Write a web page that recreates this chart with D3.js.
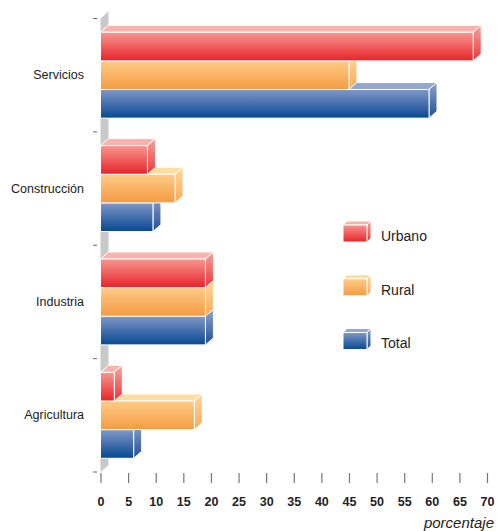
<html>
<head>
  <meta charset="utf-8">
  <title>Empleo por sector</title>
  <style>
    html, body { margin: 0; padding: 0; background: #fff; }
    svg { display: block; font-family: "Liberation Sans", Arial, sans-serif; }
  </style>
  <script src="https://d3js.org/d3.v7.min.js" charset="utf-8"></script>
</head>
<body>
<script>
  var categories = ["Servicios", "Construcción", "Industria", "Agricultura"];
  var seriesNames = ["Urbano", "Rural", "Total"];
  var urbano = [67.5, 8.5, 19, 2.5];
  var rural = [45, 13.5, 19, 17];
  var total = [59.5, 9.5, 19, 6];
  var xTicks = d3.range(0, 71, 5);

  var width = 497, height = 531;
  var dx = 8, dy = 7;   // profundidad 3D

  var svg = d3.select("body").append("svg")
    .attr("width", width)
    .attr("height", height);

  // colores: frente (arriba, abajo), cara superior, lateral (arriba, abajo)
  var pal = {
    Urbano: { f0: "#f7978f", f1: "#e8232a", top: "#f9b2ac", s0: "#f6a39c", s1: "#e9363a" },
    Rural:  { f0: "#fdcc87", f1: "#f59a42", top: "#fedda0", s0: "#fed797", s1: "#f7ab5a" },
    Total:  { f0: "#8198c8", f1: "#064891", top: "#94a7d1", s0: "#8ea2cf", s1: "#1f4f92" }
  };

  var defs = svg.append("defs");
  seriesNames.forEach(function (s) {
    var g = defs.append("linearGradient").attr("id", "f-" + s)
      .attr("x1", 0).attr("y1", 0).attr("x2", 0).attr("y2", 1);
    g.append("stop").attr("offset", "0%").attr("stop-color", pal[s].f0);
    g.append("stop").attr("offset", "100%").attr("stop-color", pal[s].f1);
    var h = defs.append("linearGradient").attr("id", "s-" + s)
      .attr("x1", 0).attr("y1", 0).attr("x2", 0).attr("y2", 1);
    h.append("stop").attr("offset", "0%").attr("stop-color", pal[s].s0);
    h.append("stop").attr("offset", "100%").attr("stop-color", pal[s].s1);
  });

  var x = d3.scaleLinear().domain([0, 70]).range([100.5, 487]);
  var y = d3.scaleBand().domain(categories).range([18.5, 472]).padding(0);
  var ys = d3.scaleBand().domain(seriesNames).range([0, y.bandwidth()])
    .paddingInner(0).paddingOuter(0.48);

  var values = { Urbano: urbano, Rural: rural, Total: total };

  // pared gris del eje
  var x0 = x(0);
  svg.append("path")
    .attr("d", "M" + x0 + "," + y.range()[0] + "L" + (x0 + dx) + "," + (y.range()[0] - dy) +
      "L" + (x0 + dx) + "," + (y.range()[1] - dy) + "L" + x0 + "," + y.range()[1] + "Z")
    .attr("fill", "#c9c9c9");

  // marcas del eje y en los limites de cada categoria
  var bounds = categories.map(function (c) { return y(c); }).concat([y.range()[1]]);
  svg.selectAll(".ybound").data(bounds).enter().append("line")
    .attr("x1", 93).attr("x2", 97)
    .attr("y1", function (d) { return d; }).attr("y2", function (d) { return d; })
    .attr("stroke", "#666").attr("stroke-width", 1);

  // etiquetas de categoria
  var yAxis = svg.append("g")
    .attr("transform", "translate(84,0)")
    .call(d3.axisLeft(y).tickSize(0).tickPadding(0));
  yAxis.select(".domain").remove();
  yAxis.selectAll("text")
    .attr("font-size", "12.5px")
    .attr("font-family", "'Liberation Sans', Arial, sans-serif")
    .attr("fill", "#222");

  // barras 3D
  function drawBox(g, xa, xb, ya, yb, s) {
    // cara superior
    g.append("path")
      .attr("d", "M" + xa + "," + ya + "L" + (xa + dx) + "," + (ya - dy) + "L" + (xb + dx) + "," + (ya - dy) +
        "L" + xb + "," + ya + "Z")
      .attr("fill", pal[s].top).attr("stroke", "#fff").attr("stroke-width", 1);
    // lateral
    g.append("path")
      .attr("d", "M" + xb + "," + ya + "L" + (xb + dx) + "," + (ya - dy) + "L" + (xb + dx) + "," + (yb - dy) +
        "L" + xb + "," + yb + "Z")
      .attr("fill", "url(#s-" + s + ")").attr("stroke", "#fff").attr("stroke-width", 1);
    // frente
    g.append("rect")
      .attr("x", xa).attr("y", ya)
      .attr("width", Math.max(0, xb - xa)).attr("height", yb - ya)
      .attr("fill", "url(#f-" + s + ")").attr("stroke", "#fff").attr("stroke-width", 1);
  }

  var bars = svg.append("g");
  categories.forEach(function (c, i) {
    seriesNames.slice().reverse().forEach(function (s) {
      var ya = y(c) + ys(s);
      drawBox(bars, x(0), x(values[s][i]), ya, ya + ys.bandwidth(), s);
    });
  });

  // eje x
  var xAxis = svg.append("g")
    .attr("transform", "translate(0,473)")
    .call(d3.axisBottom(x).tickValues(xTicks).tickSize(10).tickPadding(14).tickFormat(d3.format("d")));
  xAxis.select(".domain").remove();
  xAxis.selectAll(".tick line").attr("stroke", "#777").attr("stroke-width", 1.2);
  xAxis.selectAll("text")
    .attr("font-size", "12.5px")
    .attr("font-weight", "bold")
    .attr("font-family", "'Liberation Sans', Arial, sans-serif")
    .attr("fill", "#222");

  svg.append("text")
    .attr("x", 494).attr("y", 528)
    .attr("text-anchor", "end")
    .attr("font-size", "15px")
    .attr("font-style", "italic")
    .attr("fill", "#222")
    .text("porcentaje");

  // leyenda
  var legY = d3.scalePoint().domain(seriesNames).range([225, 332.5]);
  var leg = svg.append("g");
  seriesNames.forEach(function (s) {
    var ly = legY(s);
    var g = leg.append("g");
    var ldx = 4, ldy = 4;
    g.append("path")
      .attr("d", "M343," + ly + "L" + (343 + ldx) + "," + (ly - ldy) + "L" + (367 + ldx) + "," + (ly - ldy) +
        "L367," + ly + "Z")
      .attr("fill", pal[s].top).attr("stroke", "#fff");
    g.append("path")
      .attr("d", "M367," + ly + "L" + (367 + ldx) + "," + (ly - ldy) + "L" + (367 + ldx) + "," + (ly + 17 - ldy) +
        "L367," + (ly + 17) + "Z")
      .attr("fill", "url(#s-" + s + ")").attr("stroke", "#fff");
    g.append("rect").attr("x", 343).attr("y", ly).attr("width", 24).attr("height", 17)
      .attr("fill", "url(#f-" + s + ")").attr("stroke", "#fff");
    g.append("text")
      .attr("x", 381).attr("y", ly + 11)
      .attr("dy", "0.35em")
      .attr("font-size", "14px")
      .attr("fill", "#222")
      .text(s);
  });
</script>
</body>
</html>
